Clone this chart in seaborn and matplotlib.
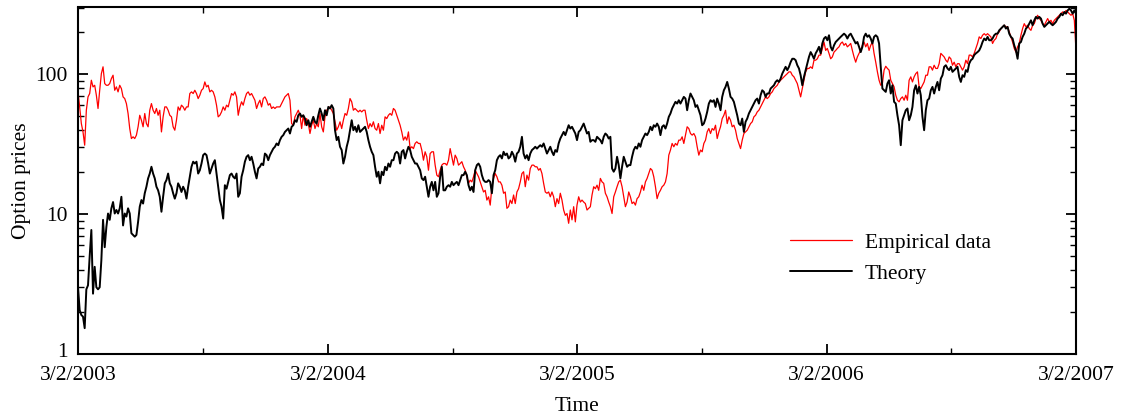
import numpy as np
import pandas as pd
import matplotlib
matplotlib.use("Agg")
import matplotlib.pyplot as plt
import matplotlib.dates as mdates
from matplotlib.ticker import FixedLocator, FuncFormatter, LogLocator, NullFormatter
from matplotlib.transforms import ScaledTranslation
import seaborn as sns

# Daily-ish option price series, 3/2/2003 .. 3/2/2007 (evenly spaced samples)
start_date = "2003-03-02"
end_date = "2007-03-02"

empirical = [
    74.8, 58.4, 44.4, 38.7, 31.1, 55.3, 68.9, 72.8, 90.6, 81.2, 83.4, 70.8, 56.9, 76.8, 101, 113, 85.8, 83.4, 83.4, 85.8,
    93.1, 98.4, 76.8, 81.2, 74.8, 83.4, 79, 68.9, 67, 61.7, 52.4, 40.9, 34.7, 35.7, 34.7, 36.7, 42.1, 50.9, 46.9, 42.1,
    52.4, 44.4, 42.1, 55.3, 61.7, 55.3, 52.4, 56.9, 50.9, 55.3, 38.7, 49.6, 58.4, 58.4, 55.3, 50.9, 49.6, 42.1, 39.8, 46.9,
    58.4, 55.3, 60.1, 58.4, 55.3, 58.4, 58.4, 72.8, 74.8, 72.8,
    76.8, 72.8, 67, 70.8, 76.8, 79, 88.1, 81.2, 83.4, 74.8, 76.8, 74.8, 68.9, 60.1, 49.6, 50.9, 53.8, 58.4, 55.3, 60.1,
    58.4, 65.2, 72.8, 70.8, 74.8, 68.9, 50.9, 58.4, 63.5, 60.1, 67, 72.8, 74.8, 70.8, 72.8, 68.9, 65.2, 56.9, 61.7, 65.2,
    58.4, 67, 68.9, 65.2, 60.1, 61.7, 56.9, 58.4, 56.9, 58.4, 58.4, 58.4, 61.7, 65.2, 68.9, 70.8, 72.8, 65.2, 44.4, 43.2,
    49.6, 52.4, 55.3, 50.9, 40.9, 50.9, 43.2, 48.2, 44.4, 37.7, 43.2, 46.9, 40.9, 44.4, 42.1,
    52.4, 42.1, 38.7, 49.6, 55.3, 56.9, 58.4, 55.3, 52.4, 45.7, 39.8, 42.1, 45.7, 40.9, 46.9, 52.4, 50.9, 56.9, 67, 63.5,
    55.3, 56.9, 55.3, 53.8, 55.3, 53.8, 55.3, 55.3, 46.9, 40.9, 44.4, 42.1, 45.7, 40.9, 39.8, 44.4, 37.7, 43.2, 39.8, 49.6,
    48.2, 50.9, 52.4, 50.9, 56.9, 55.3, 50.9, 46.9, 43.2, 38.7, 33.8, 35.7, 33.8, 38.7, 29.4, 30.3, 29.4, 32, 32.9, 32,
    32, 28.7, 24.3, 27.9, 25.7, 20.6, 27.1, 27.9, 27.9, 22.4, 19, 18.5, 20.6, 22.4, 23,
    23, 22.4, 24.3, 29.4, 25.7, 22.4, 26.4, 25, 22.4, 23, 23.7, 21.8, 20.6, 18.5, 16.6, 17.5, 17, 18.5, 20.6, 19.5,
    18.5, 17, 15.7, 14.4, 14.8, 12.6, 13.3, 11.6, 15.7, 18, 19.5, 18.5, 17, 17, 16.1, 14.1, 14.4, 11, 11.3, 12.6,
    11.9, 13.7, 11.9, 14.4, 15.2, 17, 19.5, 20.1, 15.7, 19, 17.5, 21.2, 22.4, 22.4, 21.8, 21.8, 20.6, 21.2, 19.5, 16.6,
    14.4, 14.1, 14.4, 13.3, 14.4, 13.3, 11.3, 12.9, 11.9, 14.1, 12.6, 10.7, 9.8, 10.1, 8.6,
    10.7, 9.1, 11.3, 8.8, 11.6, 13.3, 12.2, 12.6, 12.2, 11.9, 10.7, 11, 11.3, 13.7, 15.7, 15.2, 16.1, 14.8, 18, 17,
    16.6, 14.1, 13.3, 12.2, 11.3, 10.1, 13.3, 14.4, 15.7, 17, 17.5, 15.7, 13.3, 11.3, 12.2, 14.4, 13.3, 11.9, 12.2, 11.6,
    12.9, 13.3, 14.4, 16.1, 14.8, 17, 18, 19.5, 21.2, 20.6, 18.5, 15.7, 12.9, 14.1, 14.8, 15.7, 16.1, 17, 19.5, 26.4,
    28.7, 32, 30.3, 32, 31.1, 33.8, 33.8, 35.7, 32, 36.7, 42.1, 40.9, 37.7, 36.7, 37.7,
    35.7, 30.3, 26.4, 28.7, 27.9, 32, 33.8, 38.7, 40.9, 37.7, 40.9, 39.8, 43.2, 34.7, 38.7, 42.1, 48.2, 50.9, 55.3, 44.4,
    49.6, 46.9, 42.1, 43.2, 39.8, 34.7, 32, 29.4, 33.8, 37.7, 38.7, 39.8, 42.1, 44.4, 45.7, 49.6, 50.9, 53.8, 55.3, 58.4,
    61.7, 65.2, 68.9, 67, 68.9, 72.8, 74.8, 79, 81.2, 83.4, 88.1, 90.6, 93.1, 95.8, 98.4, 101, 104, 104, 98.4, 95.8,
    90.6, 85.8, 76.8, 68.9, 79, 90.6, 104, 110, 110, 113, 110, 126, 126, 129, 137,
    137, 153, 170, 148, 153, 141, 129, 133, 144, 148, 153, 157, 166, 170, 161, 166, 157, 161, 166, 148,
    133, 122, 133, 141, 148, 161, 170, 157, 166, 148, 161, 170, 141, 122, 104, 90.6, 83.4, 85.8, 107, 114,
    110, 107, 90.6, 85.8, 81.2, 70.8, 65.2, 63.5, 67, 68.9, 65.2, 70.8, 65.2, 90.6, 95.8, 88.1, 95.8, 101, 104, 81.2,
    79, 83.4, 88.1, 98.4, 98.4, 113, 113, 107, 116, 110, 110, 119, 141, 137, 133,
    126, 122, 133, 129, 116, 122, 113, 119, 119, 113, 107, 113, 126, 119, 137, 137, 133, 141, 153, 166,
    185, 180, 190, 195, 190, 195, 190, 185, 166, 175, 180, 195, 201, 212, 218, 224, 218, 218, 201, 185,
    170, 153, 144, 157, 166, 190, 212, 230, 218, 224, 212, 206, 224, 230, 250, 264, 250, 243, 230, 224,
    237, 250, 237, 243, 230, 243, 250, 257, 264, 271, 279, 271, 286, 279, 271, 264, 271, 243, 148,
]

theory = [
    3.0, 2.06, 1.9, 1.85, 1.53, 2.9, 3.1, 5.0, 7.7, 2.7, 4.2, 3.0, 2.9, 3.0, 4.7, 9.1, 5.8, 8.1, 10.1, 9.1,
    11, 12.2, 10.1, 10.7, 10.1, 11, 13.3, 8.3, 10.1, 9.6, 11, 10.1, 7.3, 7.1, 6.9, 7.1, 8.8, 11.3, 12.6, 11.9,
    14.1, 15.7, 18, 19.5, 21.8, 19.5, 18, 15.7, 14.8, 13.3, 10.4, 13.3, 16.6, 17.5, 19.5, 16.6, 15.7, 14.1, 12.9, 14.1,
    16.6, 15.7, 14.4, 15.7, 14.8, 12.9, 15.7, 18.5, 21.8, 23.7,
    23, 23.7, 19.5, 20.6, 23, 26.4, 27.1, 26.4, 23, 19.5, 21.2, 23, 24.3, 19.5, 15.7, 12.6, 11.3, 9.3, 16.1, 15.2,
    17, 19, 19.5, 18.5, 18, 19.5, 13.3, 14.1, 18.5, 20.6, 23.7, 25.7, 26.4, 24.3, 25.7, 23, 20.1, 18, 21.2, 21.8,
    23, 22.4, 27.1, 26.4, 24.3, 26.4, 27.9, 29.4, 30.3, 32, 31.1, 33.8, 35.7, 36.7, 38.7, 39.8, 40.9, 37.7, 42.1, 43.2,
    46.9, 45.7, 50.9, 52.4, 49.6, 50.9, 48.2, 43.2, 46.9, 42.1, 45.7, 49.6, 45.7, 44.4, 50.9,
    56.9, 52.4, 46.9, 55.3, 50.9, 58.4, 56.9, 60.1, 56.9, 39.8, 33.8, 35.7, 30.3, 28.7, 23, 25.7, 30.3, 33.8, 39.8, 46.9,
    39.8, 42.1, 38.7, 43.2, 38.7, 39.8, 40.9, 42.1, 38.7, 33.8, 30.3, 27.9, 26.4, 21.8, 18.5, 20.1, 16.6, 20.1, 19, 21.8,
    20.6, 23, 21.8, 24.3, 24.3, 27.1, 27.9, 27.1, 23, 27.9, 28.7, 25, 27.9, 30.3, 28.7, 25.7, 24.3, 23, 23, 21.8,
    20.6, 18, 17.5, 18.5, 15.7, 13.3, 15.7, 17, 14.8, 17, 13.3, 14.1, 18.5, 21.8, 14.8,
    14.8, 15.7, 16.1, 15.7, 17, 16.1, 16.6, 17, 16.1, 17.5, 19, 19, 20.1, 19, 16.1, 14.8, 15.7, 14.4, 20.6, 22.4,
    23, 21.8, 19, 17.5, 17, 17, 17.5, 17, 14.1, 19, 20.6, 24.3, 25.7, 26.4, 25, 27.9, 26.4, 27.1, 25, 25.7,
    27.9, 26.4, 23.7, 27.1, 27.9, 30.3, 35.7, 27.1, 25, 26.4, 24.3, 27.1, 28.7, 29.4, 30.3, 29.4, 30.3, 31.1, 30.3, 32,
    29.4, 27.1, 28.7, 30.3, 27.9, 26.4, 28.7, 27.9, 32, 34.7, 36.7, 38.7, 36.7, 39.8, 43.2,
    40.9, 42.1, 39.8, 37.7, 33.8, 38.7, 39.8, 42.1, 44.4, 40.9, 37.7, 38.7, 32.9, 33.8, 33.8, 32.9, 35.7, 34.7, 33.8, 32,
    35.7, 37.7, 36.7, 34.7, 35.7, 21.2, 20.1, 21.2, 25.7, 22.4, 18, 21.8, 25.7, 23.7, 21.8, 22.4, 22.4, 25.7, 28.7, 30.3,
    29.4, 32, 30.3, 33.8, 35.7, 37.7, 36.7, 38.7, 42.1, 39.8, 43.2, 42.1, 44.4, 42.1, 36.7, 42.1, 43.2, 40.9, 44.4, 49.6,
    52.4, 56.9, 60.1, 63.5, 61.7, 65.2, 61.7, 65.2, 68.9, 67, 55.3, 65.2, 72.8, 68.9, 65.2,
    58.4, 60.1, 55.3, 50.9, 43.2, 44.4, 48.2, 53.8, 61.7, 65.2, 63.5, 65.2, 58.4, 67, 61.7, 55.3, 68.9, 76.8, 81.2, 88.1,
    79, 68.9, 67, 63.5, 56.9, 50.9, 44.4, 43.2, 48.2, 38.7, 45.7, 48.2, 52.4, 55.3, 58.4, 61.7, 65.2, 67, 61.7, 70.8,
    76.8, 74.8, 68.9, 72.8, 72.8, 79, 81.2, 83.4, 88.1, 90.6, 88.1, 93.1, 101, 107, 113, 107, 113, 122, 129, 129,
    126, 116, 110, 98.4, 83.4, 95.8, 107, 119, 133, 144, 137, 129, 141, 148, 157,
    141, 166, 180, 185, 175, 190, 157, 148, 161, 170, 175, 180, 185, 190, 195, 190, 180, 190, 195, 185,
    175, 166, 170, 157, 144, 157, 185, 195, 185, 190, 180, 166, 185, 190, 185, 166, 113, 79, 76.8, 74.8,
    85.8, 90.6, 72.8, 83.4, 63.5, 61.7, 50.9, 43.2, 31.1, 46.9, 50.9, 55.3, 56.9, 46.9, 50.9, 58.4, 76.8, 83.4, 72.8, 81.2,
    70.8, 49.6, 39.8, 55.3, 65.2, 67, 76.8, 81.2, 72.8, 81.2, 88.1, 76.8, 93.1, 98.4, 113,
    116, 110, 107, 113, 104, 107, 110, 113, 95.8, 88.1, 98.4, 95.8, 107, 104, 119, 126, 129, 137, 141, 144,
    148, 157, 170, 180, 175, 185, 175, 175, 180, 190, 195, 195, 206, 212, 218, 224, 212, 218, 195, 185,
    180, 161, 148, 129, 166, 170, 185, 195, 212, 218, 230, 243, 224, 243, 257, 250, 257, 250, 230, 218,
    224, 230, 237, 230, 224, 230, 237, 250, 257, 271, 264, 279, 271, 286, 294, 286, 271, 286, 271,
]

tick_dates = ["2003-03-02", "2004-03-02", "2005-03-02", "2006-03-02", "2007-03-02"]
price_ticks = [1, 10, 100]

sns.set_theme(style="ticks")
plt.rcParams["font.family"] = ["Liberation Serif", "DejaVu Serif"]
plt.rcParams.update({
    "text.color": "black",
    "axes.labelcolor": "black",
    "xtick.color": "black",
    "ytick.color": "black",
    "axes.edgecolor": "black",
})

emp_df = pd.DataFrame({
    "date": pd.date_range(start_date, end_date, periods=len(empirical)),
    "price": empirical,
})
th_df = pd.DataFrame({
    "date": pd.date_range(start_date, end_date, periods=len(theory)),
    "price": theory,
})

W, H = 1122, 415
fig = plt.figure(figsize=(W / 100, H / 100), dpi=100)
ax = fig.add_axes([78 / W, 1 - 354 / H, 998 / W, (354 - 7.5) / H])

sns.lineplot(data=emp_df, x="date", y="price", color="#ff0000", linewidth=0.9,
             label="Empirical data", ax=ax)
sns.lineplot(data=th_df, x="date", y="price", color="black", linewidth=1.4,
             label="Theory", ax=ax)

ax.set_yscale("log")
ax.set_ylim(1, 300)
ax.set_xlim(pd.Timestamp(start_date), pd.Timestamp(end_date))

# x axis: yearly labelled ticks, half-year minor ticks
major = pd.to_datetime(tick_dates)
minor = major[:-1] + (major[1:] - major[:-1]) / 2
ax.xaxis.set_major_locator(FixedLocator(mdates.date2num(major)))
ax.xaxis.set_minor_locator(FixedLocator(mdates.date2num(minor)))


def date_label(v, pos):
    d = mdates.num2date(v)
    return f"{d.month}/{d.day}/{d.year}"


ax.xaxis.set_major_formatter(FuncFormatter(date_label))

# y axis: decades labelled, 2..9 minor ticks
ax.yaxis.set_major_locator(FixedLocator(price_ticks))
ax.yaxis.set_major_formatter(FuncFormatter(lambda v, p: f"{v:g}"))
ax.yaxis.set_minor_locator(LogLocator(base=10, subs=np.arange(2, 10), numticks=20))
ax.yaxis.set_minor_formatter(NullFormatter())

ax.tick_params(which="both", direction="in", top=True, right=True, colors="black")
ax.tick_params(which="major", length=7, width=1.3, labelsize=15.5)
ax.tick_params(which="minor", length=4, width=1.0)
ax.tick_params(axis="x", which="major", pad=8.6)
ax.tick_params(axis="y", which="major", pad=7.2)
for s in ax.spines.values():
    s.set_linewidth(1.5)
    s.set_color("black")

ax.set_xlabel("Time", fontsize=15.5, labelpad=8.6)
ax.set_ylabel("Option prices", fontsize=15.5, labelpad=3)

ax.legend(loc="center left", bbox_to_anchor=(0.713, 0.276), frameon=False,
          fontsize=15.5, handlelength=2.9, handletextpad=0.6,
          labelspacing=0.5, borderpad=0, borderaxespad=0)

# lift the bottom decade label a little clear of the date labels
fig.canvas.draw()
for lab in ax.get_yticklabels():
    if lab.get_text() == "1":
        lab.set_transform(lab.get_transform() + ScaledTranslation(0, 4 / 100, fig.dpi_scale_trans))

fig.savefig("out.png", dpi=100)
